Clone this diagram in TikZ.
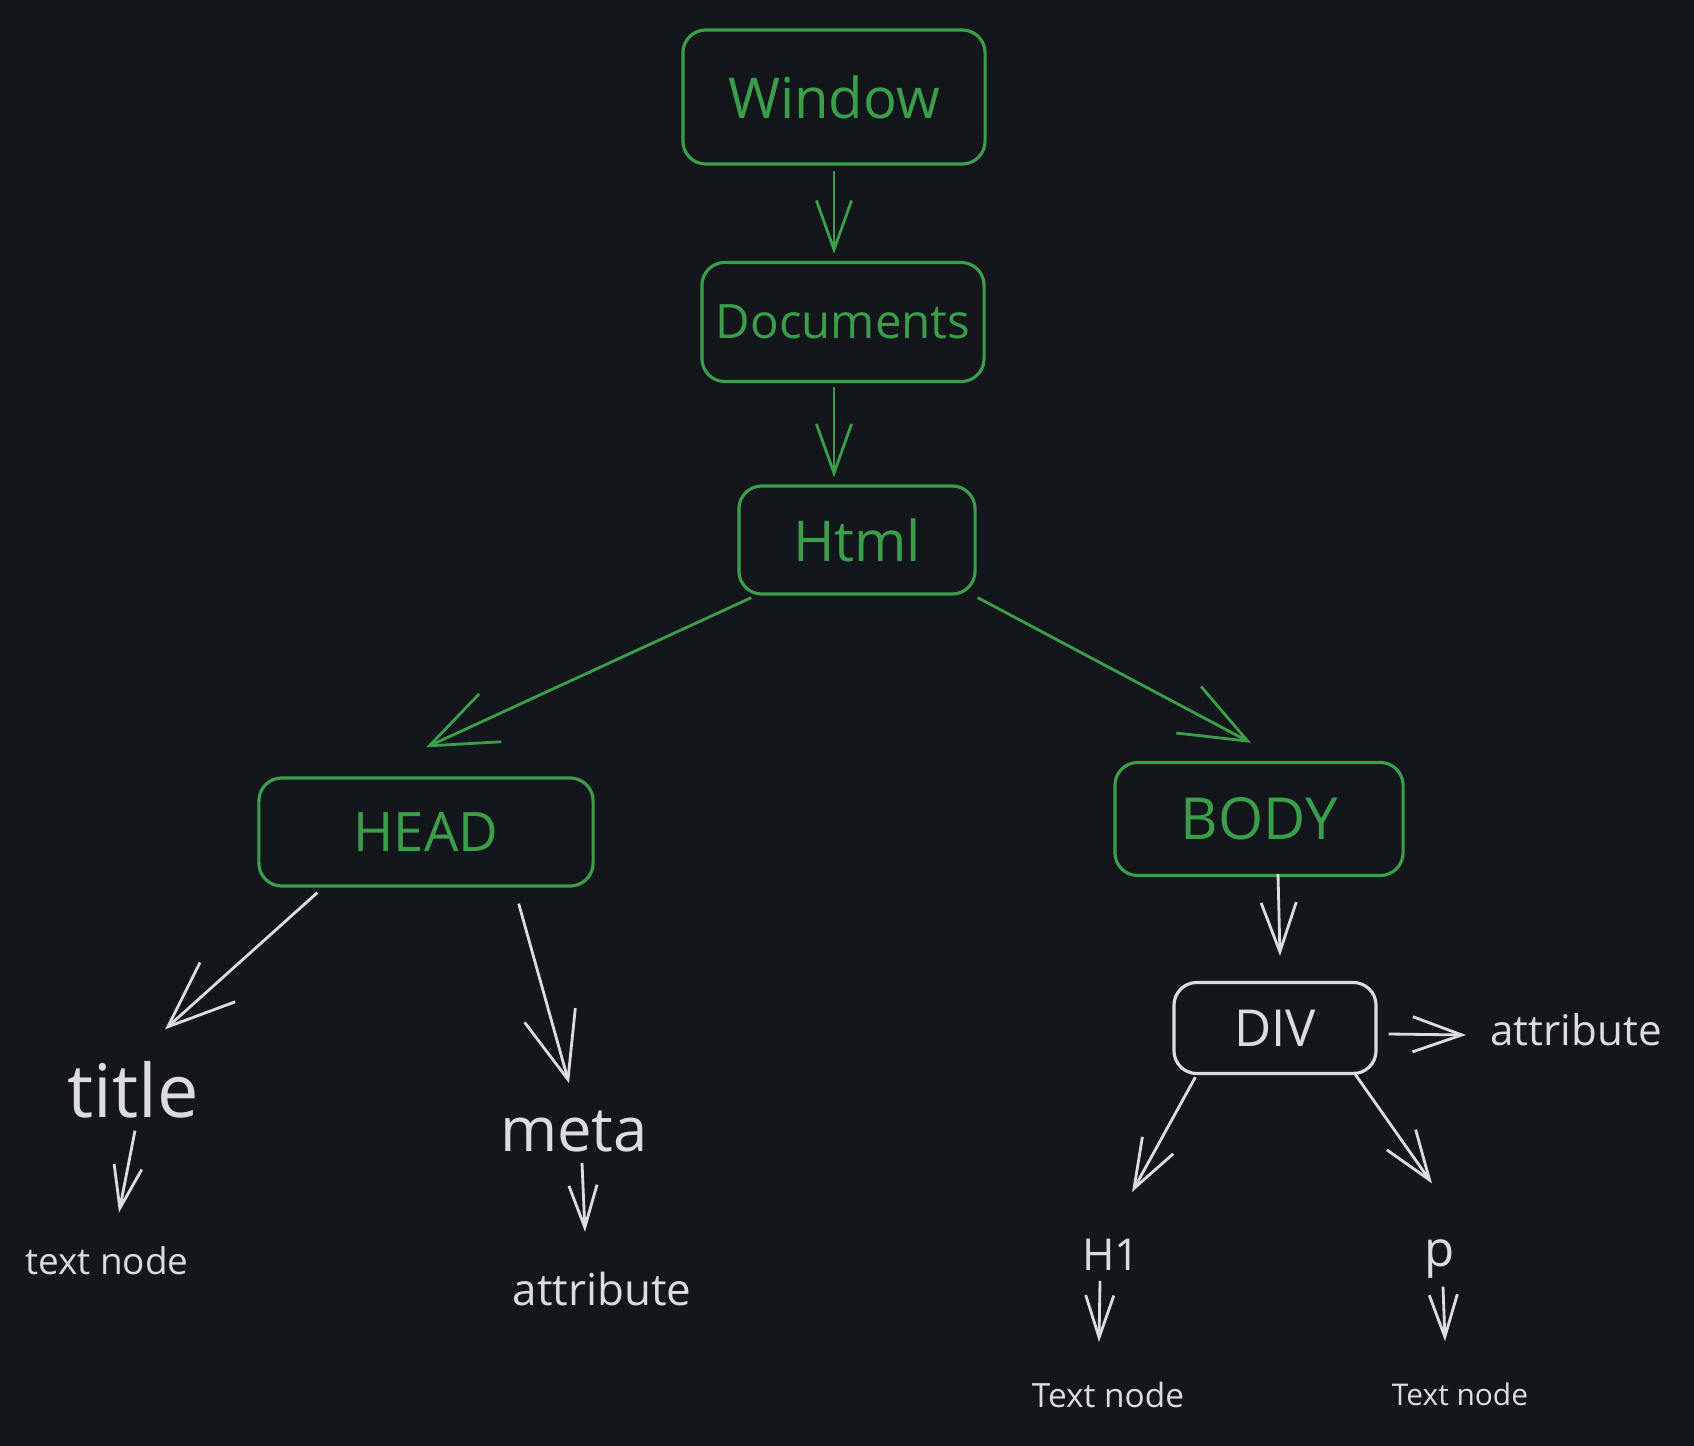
\documentclass[tikz,border=0pt]{standalone}
\usepackage{fontspec}
\setmainfont{Open Sans}
\usetikzlibrary{arrows.meta,calc}
\definecolor{bgdark}{HTML}{13161B}
\definecolor{dgreen}{HTML}{3A9E4A}
\definecolor{chalk}{HTML}{DCDCDC}
\tikzset{>={Straight Barb[length=14pt,width=10pt]}}
\tikzset{
  gbox/.style={draw=dgreen, line width=0.9pt, rounded corners=6.5pt, text=dgreen, inner sep=0pt},
  wbox/.style={draw=chalk, line width=0.9pt, rounded corners=6.5pt, text=chalk, inner sep=0pt},
  wtext/.style={text=chalk, inner sep=1pt},
  garrow/.style={->, line width=0.8pt, draw=dgreen},
  warrow/.style={->, line width=0.8pt, draw=chalk},
  bigtip/.style={-{Straight Barb[length=19pt,width=15pt]}},
  smalltip/.style={-{Straight Barb[length=12pt,width=8pt]}}
}

\begin{document}
\begin{tikzpicture}[x=0.01cm, y=-0.01cm]
        \fill[bgdark] (0,0) rectangle (1694,1446);
        \useasboundingbox (0,0) rectangle (1694,1446);

        \node[gbox, minimum width=3.02cm, minimum height=1.34cm, font=\fontsize{16}{18}\selectfont] (win) at (834,97) {Window};
        \node[gbox, minimum width=2.82cm, minimum height=1.19cm, font=\fontsize{13.5}{16}\selectfont] (doc) at (843,322) {Documents};
        \node[gbox, minimum width=2.36cm, minimum height=1.08cm, font=\fontsize{16}{18}\selectfont] (html) at (857,540) {Html};
        \node[gbox, minimum width=3.34cm, minimum height=1.08cm, font=\fontsize{15.5}{18}\selectfont] (head) at (426,832) {HEAD};
        \node[gbox, minimum width=2.88cm, minimum height=1.13cm, font=\fontsize{16.5}{19}\selectfont] (body) at (1259,819) {BODY};
        \node[wbox, minimum width=2.02cm, minimum height=0.91cm, font=\fontsize{14.5}{17}\selectfont] (div) at (1275,1028) {DIV};

        \node[wtext, font=\fontsize{21}{24}\selectfont] (title) at (133,1090) {title};
        \node[wtext, font=\fontsize{10.5}{12}\selectfont] (ttext) at (107,1261) {text node};
        \node[wtext, font=\fontsize{17.5}{20}\selectfont] (meta) at (574,1132) {meta};
        \node[wtext, font=\fontsize{12.5}{15}\selectfont] (mattr) at (602,1289) {attribute};
        \node[wtext, font=\fontsize{12}{14}\selectfont] (dattr) at (1576,1030) {attribute};
        \node[wtext, font=\fontsize{12.5}{15}\selectfont] (hone) at (1111,1255) {H1};
        \node[wtext, font=\fontsize{9.5}{11}\selectfont] (htext) at (1108,1395) {Text node};
        \node[wtext, font=\fontsize{14}{16}\selectfont] (para) at (1440,1259) {p};
        \node[wtext, font=\fontsize{8.5}{10}\selectfont] (ptext) at (1460,1394) {Text node};

        \draw[garrow, shorten <=1.5pt, shorten >=2pt] (win.south) -- (doc.north -| win.south);
        \draw[garrow, shorten <=1pt, shorten >=2pt] (doc.south -| win.south) -- (html.north -| win.south);
        \draw[garrow, bigtip] ($(html.south west)+(14,2)$) -- ($(head.north)+(0,-29)$);
        \draw[garrow, bigtip] ($(html.south east)+(1,2)$) -- ($(body.north)+(-8,-18)$);

        \draw[warrow, bigtip] ($(head.south west)+(60,5)$) -- ($(title.north)+(32,-28)$);
        \draw[warrow, bigtip] ($(head.south east)+(-76,16)$) -- ($(meta.north)+(-5,-24)$);
        \draw[warrow, smalltip] ($(title.south)+(2,8)$) -- ($(ttext.north)+(12,-30)$);
        \draw[warrow, smalltip] ($(meta.south)+(8,6)$) -- ($(mattr.north)+(-17,-36)$);

        \draw[warrow] ($(body.south)+(19,-3)$) -- ($(div.north)+(5,-25)$);
        \draw[warrow] ($(div.east)+(11,6)$) -- ($(dattr.west)+(-20,5)$);
        \draw[warrow] ($(div.south west)+(23,2)$) -- ($(hone.north)+(21,-43)$);
        \draw[warrow] ($(div.south east)+(-24,-3)$) -- ($(para.north)+(-8,-52)$);
        \draw[warrow, smalltip] ($(hone.south)+(-11,6)$) -- ($(htext.north)+(-9,-36)$);
        \draw[warrow, smalltip] ($(para.south)+(3,4)$) -- ($(ptext.north)+(-15,-37)$);
\end{tikzpicture}
\end{document}
